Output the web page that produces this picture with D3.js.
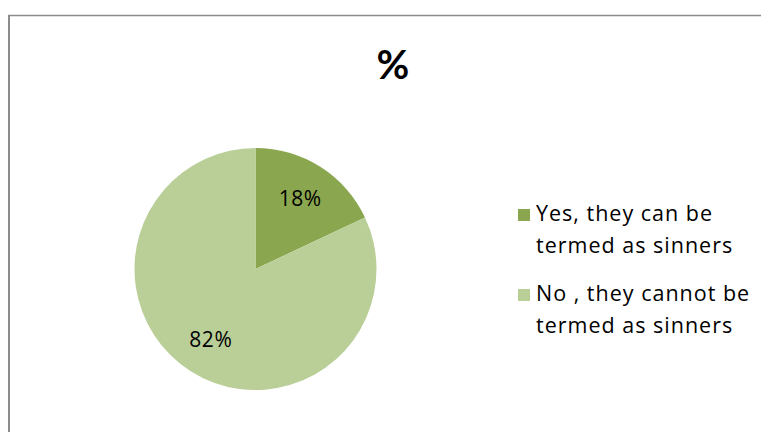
<!DOCTYPE html>
<html>
<head>
<meta charset="utf-8">
<script src="https://cdn.jsdelivr.net/npm/d3@7"></script>
<style>
  html, body { margin: 0; padding: 0; background: #fff; }
  svg { display: block; }
  text { font-family: "Open Sans", Lato, sans-serif; fill: #000; }
</style>
</head>
<body>
<svg id="chart" width="761" height="432"></svg>
<script>
const categories = ["Yes, they can be termed as sinners", "No , they cannot be termed as sinners"];
const legendLines = [["Yes, they can be", "termed as sinners"], ["No , they cannot be", "termed as sinners"]];
const values = [18, 82];
const colors = ["#8aa74f", "#b9cf97"];
const title = "%";

const svg = d3.select("#chart");

// frame
svg.append("line").attr("x1", 8).attr("x2", 761).attr("y1", 15.5).attr("y2", 15.5)
  .attr("stroke", "#8c8c8c").attr("stroke-width", 1.5);
svg.append("line").attr("x1", 9).attr("x2", 9).attr("y1", 15).attr("y2", 432)
  .attr("stroke", "#8c8c8c").attr("stroke-width", 2);

// title
svg.append("text").attr("x", 393).attr("y", 79).attr("text-anchor", "middle")
  .style("font-family", "Lato, sans-serif")
  .style("font-size", "40px").style("font-weight", "bold").text(title);

const cx = 255.5, cy = 269, r = 121;
const pie = d3.pie().sort(null).value(d => d)(values);
const arc = d3.arc().innerRadius(0).outerRadius(r);
const g = svg.append("g").attr("transform", `translate(${cx},${cy})`);
g.selectAll("path").data(pie).join("path")
  .attr("d", arc).attr("fill", (d, i) => colors[i]);

const labelArc = d3.arc().innerRadius(r * 0.69).outerRadius(r * 0.69);
g.selectAll("text.lbl").data(pie).join("text").attr("class", "lbl")
  .attr("transform", d => { const c = labelArc.centroid(d); return `translate(${c[0]},${c[1]})`; })
  .attr("text-anchor", "middle").attr("dy", "0.36em")
  .style("font-size", "21px").style("letter-spacing", "0.6px")
  .text(d => Math.round(d.data) + "%");

// legend
const lg = svg.append("g");
legendLines.forEach((lines, i) => {
  const y0 = 221 + i * 80;
  lg.append("rect").attr("x", 518).attr("y", y0 - 12).attr("width", 12).attr("height", 12)
    .attr("fill", colors[i]);
  lines.forEach((t, j) => {
    lg.append("text").attr("x", 536).attr("y", y0 + j * 31.5)
      .style("font-size", "21.5px").style("letter-spacing", "1px").text(t);
  });
});
</script>
</body>
</html>
